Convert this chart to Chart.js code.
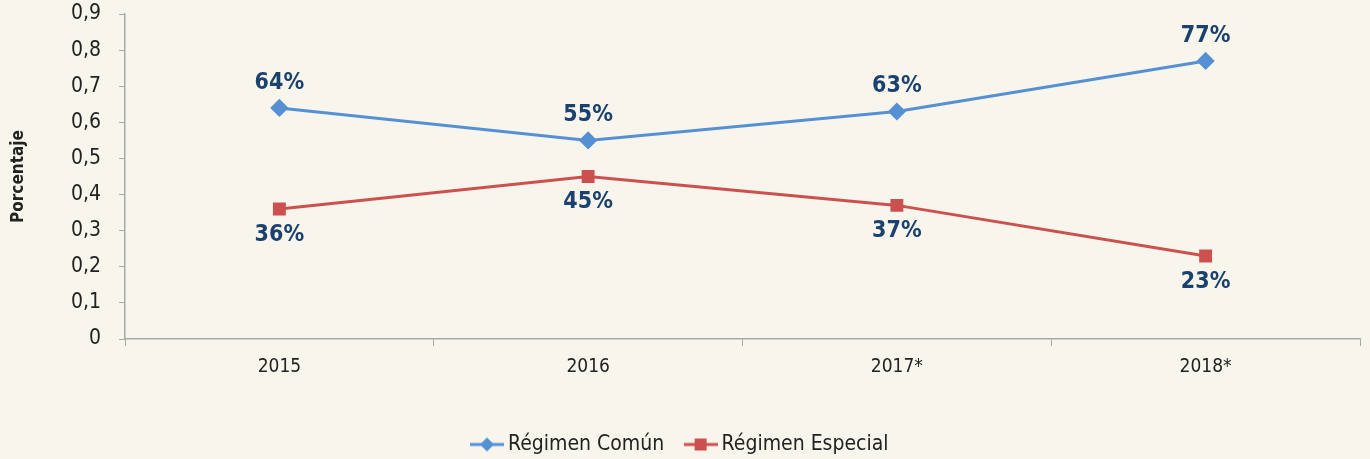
<!DOCTYPE html>
<html>
<head>
<meta charset="utf-8">
<script src="https://cdn.jsdelivr.net/npm/chart.js@4/dist/chart.umd.min.js"></script>
<style>
  html, body { margin: 0; padding: 0; background: #f8f6ec; }
  #wrap { width: 1370px; height: 459px; }
</style>
</head>
<body>
<div id="wrap"><canvas id="chart"></canvas></div>
<script>
const years = ['2015', '2016', '2017*', '2018*'];
const comun = [0.64, 0.55, 0.63, 0.77];
const especial = [0.36, 0.45, 0.37, 0.23];
const comunLabels = ['64%', '55%', '63%', '77%'];
const especialLabels = ['36%', '45%', '37%', '23%'];
const yTickLabels = ['0', '0,1', '0,2', '0,3', '0,4', '0,5', '0,6', '0,7', '0,8', '0,9'];

const FONT = '"Liberation Sans Narrow", "DejaVu Sans Condensed", "Liberation Sans", sans-serif';
const BLUE = '#5690d4';
const RED = '#cc514e';

// small legend icon: line with the marker on it
function legendIcon(color, shape) {
  const c = document.createElement('canvas');
  c.width = 34; c.height = 16;
  const g = c.getContext('2d');
  g.strokeStyle = color; g.fillStyle = color; g.lineWidth = 3;
  g.beginPath(); g.moveTo(0, 8); g.lineTo(34, 8); g.stroke();
  g.beginPath();
  if (shape === 'diamond') {
    g.moveTo(17, 1); g.lineTo(24, 8); g.lineTo(17, 15); g.lineTo(10, 8);
  } else {
    g.rect(11, 2, 12, 12);
  }
  g.fill();
  return c;
}

const labelPlugin = {
  id: 'pointLabels',
  afterDatasetsDraw(chart) {
    const ctx = chart.ctx;
    ctx.save();
    ctx.font = 'bold 23px ' + FONT;
    ctx.fillStyle = '#1b416f';
    ctx.textAlign = 'center';
    ctx.textBaseline = 'middle';
    chart.data.datasets.forEach((ds, i) => {
      const meta = chart.getDatasetMeta(i);
      meta.data.forEach((pt, j) => {
        const dy = ds.labelAbove ? -25 : 26;
        ctx.fillText(ds.pointLabels[j], pt.x, pt.y + dy);
      });
    });
    ctx.restore();
  }
};

new Chart(document.getElementById('chart'), {
  type: 'line',
  data: {
    labels: years,
    datasets: [
      {
        label: 'Régimen Común',
        data: comun,
        pointLabels: comunLabels,
        labelAbove: true,
        borderColor: BLUE,
        backgroundColor: BLUE,
        borderWidth: 3,
        pointStyle: 'rectRot',
        pointRadius: 7,
        pointHoverRadius: 7,
        legendIcon: legendIcon(BLUE, 'diamond')
      },
      {
        label: 'Régimen Especial',
        data: especial,
        pointLabels: especialLabels,
        labelAbove: false,
        borderColor: RED,
        backgroundColor: RED,
        borderWidth: 3,
        pointStyle: 'rect',
        pointRadius: 7,
        pointHoverRadius: 7,
        legendIcon: legendIcon(RED, 'square')
      }
    ]
  },
  options: {
    responsive: true,
    maintainAspectRatio: false,
    animation: false,
    layout: { padding: { top: 14, right: 5, left: 0, bottom: -6 } },
    plugins: {
      tooltip: { enabled: false },
      legend: {
        position: 'bottom',
        labels: {
          usePointStyle: true,
          color: '#222',
          font: { family: FONT, size: 21 },
          padding: 26,
          generateLabels(chart) {
            return chart.data.datasets.map((ds, i) => ({
              text: ds.label,
              pointStyle: ds.legendIcon,
              fillStyle: ds.borderColor,
              strokeStyle: ds.borderColor,
              fontColor: '#222',
              lineWidth: 0,
              datasetIndex: i
            }));
          }
        }
      }
    },
    scales: {
      x: {
        offset: true,
        grid: { display: true, drawOnChartArea: false, offset: true, tickLength: 7, color: '#a8a8a8' },
        border: { color: '#a8a8a8', width: 1.5 },
        ticks: { color: '#222', font: { family: FONT, size: 19 }, padding: 10 },
        afterFit(s) { s.height = 69; }
      },
      y: {
        min: 0,
        max: 0.9,
        grid: { display: true, drawOnChartArea: false, tickLength: 6, color: '#a8a8a8' },
        border: { color: '#a8a8a8', width: 1.5 },
        ticks: {
          stepSize: 0.1,
          color: '#222',
          font: { family: FONT, size: 21 },
          padding: 18,
          callback: (v, i) => yTickLabels[i]
        },
        title: {
          display: true,
          text: 'Porcentaje',
          color: '#222',
          font: { family: FONT, size: 17, weight: 'bold' },
          padding: { top: 8, bottom: 20 }
        },
        afterFit(s) {
          s.width = 125;
          s.paddingTop = 0;
          s.paddingBottom = 0;
        }
      }
    }
  },
  plugins: [labelPlugin]
});
</script>
</body>
</html>
